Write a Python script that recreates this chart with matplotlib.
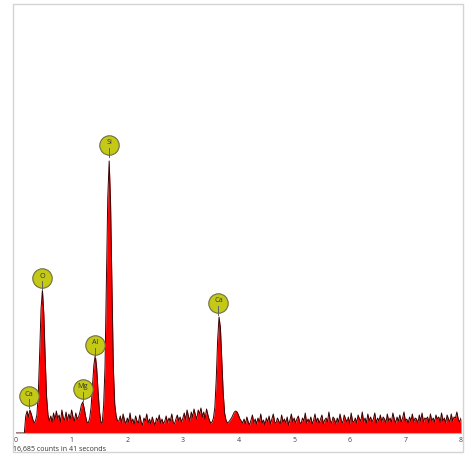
import numpy as np
import matplotlib
matplotlib.use("Agg")
import matplotlib.pyplot as plt
from matplotlib.patches import Rectangle

plt.rcParams['font.family'] = ['Open Sans', 'DejaVu Sans']

# ---- data ----
channel_width_kev = 0.025
counts = (
    [0, 0, 0, 0, 0, 0, 0]
    + [17, 22, 16, 23, 19, 14, 10, 12, 18, 38, 79, 124, 143, 119, 74, 36, 18, 12]
    + [17, 11, 20, 13, 22, 14, 18, 11, 23, 15, 13, 21, 12, 19, 14, 23, 16, 12, 20, 14]
    + [16, 21, 28, 31, 25, 17, 11, 10,
       15, 26, 47, 68, 78, 65, 42, 22, 11,
       10, 27, 66, 152, 236, 272, 230, 145, 65, 29, 17, 12]
    + [12, 17, 10, 19, 13, 9, 15, 11, 20, 10, 14, 9, 17, 12, 10, 18, 11, 8, 15, 12,
       19, 10, 14, 9, 16, 11, 8, 15, 12, 18, 10, 14, 9, 12, 17, 10, 15, 12, 19, 11,
       9, 14, 18, 12, 16, 11]
    + [15, 20, 13, 23, 17, 12, 21, 16, 24, 18, 14, 23, 19, 25, 16, 21, 14, 24, 18, 13, 10, 11]
    + [15, 26, 54, 93, 116, 105, 72, 40, 20, 13]
    + [10, 11, 13, 15, 18, 21, 22, 21, 18, 14, 12]
    + [10, 14, 9, 16, 11, 8, 13, 18, 10, 14, 9, 15, 11, 19, 10, 13, 8, 15, 11, 17,
       9, 14, 19, 11, 10, 15, 12, 9, 18, 11, 14, 10, 16, 8, 13, 19, 11, 15, 10, 14,
       17, 11, 9, 15, 12, 20, 10, 14, 11, 16, 9, 13, 19, 11, 15, 10, 14, 18, 9, 13,
       15, 11, 21, 12, 10, 16, 14, 9, 15, 11, 19, 12, 10, 18, 14, 11, 16, 9, 20, 12,
       11, 15, 10, 18, 14, 12, 21, 11, 15, 10, 19, 12, 16, 11, 14, 20, 10, 15, 12, 18,
       11, 16, 14, 10, 19, 12, 15, 11, 20, 14, 10, 16, 12, 18, 11, 15, 21, 12, 14, 10,
       16, 12, 19, 11, 15, 14, 10, 18, 12, 20, 11, 15, 14, 16, 10, 19, 12, 15, 11, 18,
       14, 16, 11, 20, 12, 15, 10, 18, 14, 11, 19, 12, 16, 15, 21, 14, 11, 15]
)
energy = np.arange(len(counts)) * channel_width_kev

peak_labels = ["Ca", "O", "Mg", "Al", "Si", "Ca"]
peak_energy = [0.24, 0.475, 1.2, 1.42, 1.675, 3.64]
label_height = [37, 155, 44, 88, 288, 130]

x_ticks = [0, 1, 2, 3, 4, 5, 6, 7, 8]
caption = "16,685 counts in 41 seconds"

# ---- figure ----
W, H = 471, 455
fig = plt.figure(figsize=(W / 100, H / 100), dpi=100)
fig.patch.set_facecolor("white")

# outer frame
fig.patches.append(Rectangle((13 / W, 3 / H), 450 / W, 448 / H, transform=fig.transFigure,
                             fill=False, edgecolor="#d4d4d4", lw=1.0))

ax = fig.add_axes([16 / W, 22 / H, 445 / W, 429 / H])
ax.set_xlim(0, 8)
ax.set_ylim(0, 429)
ax.fill_between(energy, counts, 0, color="#ff0000", lw=0, zorder=2)
ax.plot(energy, counts, color="#3a0000", lw=0.7, zorder=3)

for lab, e, h in zip(peak_labels, peak_energy, label_height):
    ax.plot(e, h, "o", ms=14, mfc="#c3c916", mec="#6f6f40", mew=0.8, zorder=5, clip_on=False)
    ax.plot([e, e], [h - 3, h - 12], color="#606060", lw=0.7, zorder=6)
    ax.text(e, h + 2, lab, fontsize=5.2, color="#333333", ha="center", va="center", zorder=7)

for s in ["top", "right", "left"]:
    ax.spines[s].set_visible(False)
ax.spines["bottom"].set_color("#b0b0b0")
ax.spines["bottom"].set_linewidth(0.8)
ax.set_yticks([])
ax.set_xticks(x_ticks)
ax.set_xticklabels([str(t) for t in x_ticks])
ax.tick_params(axis="x", length=0, pad=3, labelsize=5, labelcolor="#444444")
ax.set_facecolor("none")

fig.text(13 / W, 1 - 449 / H, caption, fontsize=5, color="#333333", ha="left", va="center")

fig.savefig("out.png", dpi=100)
